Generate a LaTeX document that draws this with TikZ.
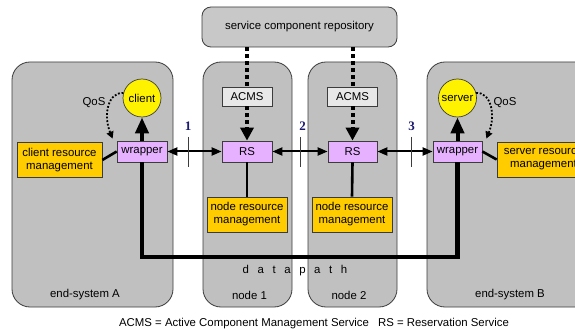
\documentclass[tikz,border=0pt]{standalone}
\usepackage{fontspec}
\setmainfont{Liberation Sans}
\newfontfamily\numfont{Liberation Serif}
\usetikzlibrary{arrows.meta,calc}
\definecolor{sysgray}{RGB}{192,192,192}
\definecolor{repogray}{RGB}{200,200,200}
\definecolor{acmsgray}{RGB}{232,232,232}
\definecolor{lilac}{RGB}{230,178,255}
\definecolor{amber}{RGB}{255,204,0}
\definecolor{navy}{RGB}{25,25,112}
\definecolor{edge}{RGB}{60,60,60}
\tikzset{
  sysbox/.style={draw=edge, fill=sysgray, rounded corners=18pt, line width=0.8pt, inner sep=0pt},
  repobox/.style={draw=edge, fill=repogray, rounded corners=9pt, line width=0.8pt, inner sep=0pt},
  acmsbox/.style={draw=edge, fill=acmsgray, line width=0.7pt, inner sep=0pt, minimum width=50pt, minimum height=19pt},
  lilacbox/.style={draw=edge, fill=lilac, line width=0.7pt, inner sep=0pt, minimum height=21pt},
  mgmtbox/.style={draw=edge, fill=amber, line width=0.7pt, inner sep=0pt, align=center, minimum height=35pt},
  endpoint/.style={circle, draw=edge, fill=yellow, line width=0.7pt, inner sep=0pt, minimum size=38pt},
  plain/.style={inner sep=0pt},
  numlabel/.style={inner sep=0pt, text=navy, font=\numfont\bfseries\fontsize{13}{13}\selectfont},
  signal/.style={line width=2pt, {Triangle[length=10pt,width=8pt]}-{Triangle[length=10pt,width=8pt]}},
  link/.style={line width=2.6pt},
  uplink/.style={line width=4pt, -{Triangle[length=16pt,width=13pt]}},
  deploy/.style={line width=4pt, dash pattern=on 4pt off 3pt},
  deployarrow/.style={deploy, -{Triangle[length=13pt,width=13pt]}},
  qos/.style={line width=1.8pt, dash pattern=on 1.8pt off 1.8pt, -{Triangle[length=7pt,width=7pt]}},
  pathline/.style={line width=4.5pt, line join=miter},
  tick/.style={line width=0.7pt, draw=edge}
}
\begin{document}
\begin{tikzpicture}[x=1pt, y=-1pt, font=\fontsize{11.4}{13}\selectfont]
\clip (0,0) rectangle (575,331);
\fill[white] (0,0) rectangle (575,331);

% hosts along the path
\node[sysbox, minimum width=161pt, minimum height=245pt] (sysA) at (92.5,184.5) {};
\node[sysbox, minimum width=89pt, minimum height=245pt] (node1) at (247.5,184.5) {};
\node[sysbox, minimum width=89pt, minimum height=245pt] (node2) at (352.5,184.5) {};
\node[sysbox, minimum width=175pt, minimum height=245pt] (sysB) at (514.5,184.5) {};

\node[plain] (labA) at (85,295) {end-system A};
\node[plain] (lab1) at (249.5,295) {node 1};
\node[plain] (lab2) at (349,295) {node 2};
\node[plain] (labB) at (510,295) {end-system B};

% repository and component management
\node[repobox, minimum width=195pt, minimum height=40pt] (repo) at (299.5,27) {service component repository};
\node[acmsbox] (acms1) at (247,96.5) {ACMS};
\node[acmsbox] (acms2) at (352.5,96.5) {ACMS};

% reservation services and wrappers
\node[lilacbox, minimum width=50pt] (rs1) at (247,151.5) {RS};
\node[lilacbox, minimum width=49pt] (rs2) at (352.5,151.5) {RS};
\node[lilacbox, minimum width=50pt] (wrapA) at (142,151.5) {wrapper};
\node[lilacbox, minimum width=49pt] (wrapB) at (457.5,151.5) {wrapper};

% resource management
\node[mgmtbox, minimum width=85pt] (crm) at (59.5,160) {client resource\\management};
\node[mgmtbox, minimum width=93pt] (srm) at (543.5,159.5) {server resource\\management};
\node[mgmtbox, minimum width=80pt] (nrm1) at (247,214.5) {node resource\\management};
\node[mgmtbox, minimum width=80pt] (nrm2) at (352,214.5) {node resource\\management};

% applications
\node[endpoint] (client) at (142,98) {client};
\node[endpoint] (server) at (457.5,98) {server};

% deployment of components
\draw[deploy] (repo.south -| acms1) -- (acms1.north);
\draw[deployarrow] (acms1.south) -- (rs1.north);
\draw[deploy] (repo.south -| acms2) -- (acms2.north);
\draw[deployarrow] (acms2.south) -- (rs2.north);

% signalling between reservation services
\draw[signal] (wrapA.east) -- (rs1.west);
\draw[signal] (rs1.east) -- (rs2.west);
\draw[signal] (rs2.east) -- (wrapB.west);

% local links
\draw[link] (crm.east) -- (wrapA.west);
\draw[link] (wrapB.east) -- (srm.west);
\draw[link] (rs1.south) -- (nrm1.north);
\draw[link] (rs2.south) -- (nrm2.north);

% delivery to the applications
\draw[uplink] (wrapA.north) -- (client.south);
\draw[uplink] (wrapB.north) -- (server.south);

% QoS requests
\draw[qos] (client.165) .. controls (108,92) and (103,115) .. ($(wrapA.north west)+(-4,-2)$);
\draw[qos] (server.15) .. controls (491,92) and (496,115) .. ($(wrapB.north east)+(4,-2)$);
\node[plain] (qosA) at (94,102.5) {QoS};
\node[plain] (qosB) at (505,102.5) {QoS};

% data path
\coordinate (dpA) at (142,257);
\coordinate (dpB) at (457.5,257);
\draw[pathline] (wrapA.south) -- (dpA) -- (dpB) -- (wrapB.south);
\node[plain] (dptext) at (295,271) {d\hspace{8.6pt}a\hspace{8.6pt}t\hspace{8.6pt}a\hspace{8.6pt}p\hspace{8.6pt}a\hspace{8.6pt}t\hspace{8.6pt}h};

% interface markers
\coordinate (t1a) at (188,137); \coordinate (t1b) at (188,167);
\coordinate (t2a) at (300,137); \coordinate (t2b) at (300,167);
\coordinate (t3a) at (411,137); \coordinate (t3b) at (411,167);
\draw[tick] (t1a) -- (t1b);
\draw[tick] (t2a) -- (t2b);
\draw[tick] (t3a) -- (t3b);
\node[numlabel] (n1) at (188,126) {1};
\node[numlabel] (n2) at (302.5,126) {2};
\node[numlabel] (n3) at (411.5,126) {3};

% legend
\node[plain] (legend) at (314,323.5) {ACMS = Active Component Management Service\hspace{9pt}RS = Reservation Service};
\end{tikzpicture}
\end{document}
